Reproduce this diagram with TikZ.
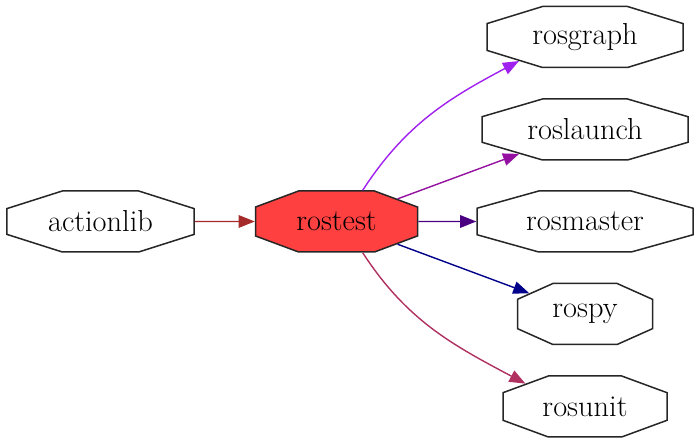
\documentclass[tikz,border=0pt]{standalone}
\usetikzlibrary{calc}
\usetikzlibrary{arrows.meta}
\usetikzlibrary{shapes.misc}

\definecolor{testred}{HTML}{FF4040}
\definecolor{depbrown}{HTML}{A52A2A}
\definecolor{deppurple}{HTML}{A020F0}
\definecolor{depmagenta}{HTML}{9410A0}
\definecolor{depindigo}{HTML}{4B0082}
\definecolor{depnavy}{HTML}{00008B}
\definecolor{depmaroon}{HTML}{B03060}

\tikzset{
 pkg/.style={chamfered rectangle, draw=black!85, line width=1.5bp, minimum height=61bp,
  inner sep=0pt, chamfered rectangle ysep=17.5bp, font=\fontsize{30.5}{36}\selectfont},
 dep/.style={line width=1.4bp, -{Triangle[length=16bp,width=12.5bp]}}
}

\begin{document}
\begin{tikzpicture}[x=1bp,y=1bp]
\useasboundingbox (0,0) rectangle (700,445);
\node[pkg, minimum width=187bp, chamfered rectangle angle={atan(55/17.5)}] (actionlib) at (100.5,223.5) {actionlib};
\node[pkg, fill=testred, minimum width=162bp, chamfered rectangle angle={atan(47/17.5)}] (rostest) at (336.5,223.5) {rostest};
\foreach \name/\y/\w in {rosgraph/408/196, roslaunch/315.5/206, rosmaster/223.5/216, rospy/131/135, rosunit/38.5/164} {
 \node[pkg, minimum width=\w bp, chamfered rectangle angle={atan(.29*\w/17.5)}] (\name) at (585,\y) {\name};
}
\draw[dep, depbrown] (actionlib) -- (rostest);
\draw[dep, deppurple] (rostest.50) to[out=57, in=208] (rosgraph.200);
\draw[dep, depmagenta] (rostest) -- (roslaunch);
\draw[dep, depindigo] (rostest) -- (rosmaster);
\draw[dep, depnavy] (rostest) -- (rospy);
\draw[dep, depmaroon] (rostest.-50) to[out=-57, in=152] (rosunit.159);
\end{tikzpicture}
\end{document}
